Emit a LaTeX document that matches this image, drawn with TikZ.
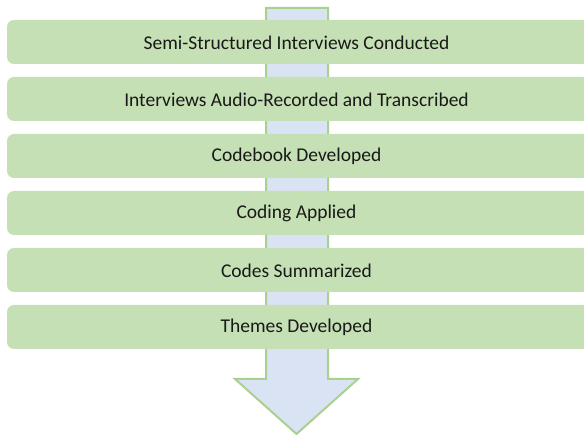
\documentclass[tikz,border=0pt]{standalone}
\usepackage{fontspec}
\setmainfont{Carlito}
\definecolor{stepfill}{HTML}{C5E0B4}
\definecolor{arrowfill}{HTML}{DAE3F3}
\definecolor{arrowline}{HTML}{A9D18E}
\begin{document}
\begin{tikzpicture}[x=1pt,y=-1pt,
  stepbox/.style={fill=stepfill, draw=none, rounded corners=7pt},
  steplabel/.style={font=\fontsize{19.5}{23}\selectfont, text=black!90, inner sep=0pt}]
\useasboundingbox (0,0) rectangle (584,435);
\clip (0,0) rectangle (584,435);
% downward process arrow behind the steps
\draw[fill=arrowfill, draw=arrowline, line width=2pt, line join=miter]
  (266,8) -- (328,8) -- (328,379) -- (358,379) -- (296.5,434) -- (235,379) -- (266,379) -- cycle;
% the six steps
\foreach \i/\t in {0/Semi-Structured Interviews Conducted,
                   1/Interviews Audio-Recorded and Transcribed,
                   2/Codebook Developed,
                   3/Coding Applied,
                   4/Codes Summarized,
                   5/Themes Developed}{
  \fill[stepbox] (7,20+57*\i) rectangle (592,64+57*\i);
  \node[steplabel] (s\i) at (296.5,42.5+57*\i) {\t};
}
\end{tikzpicture}
\end{document}
